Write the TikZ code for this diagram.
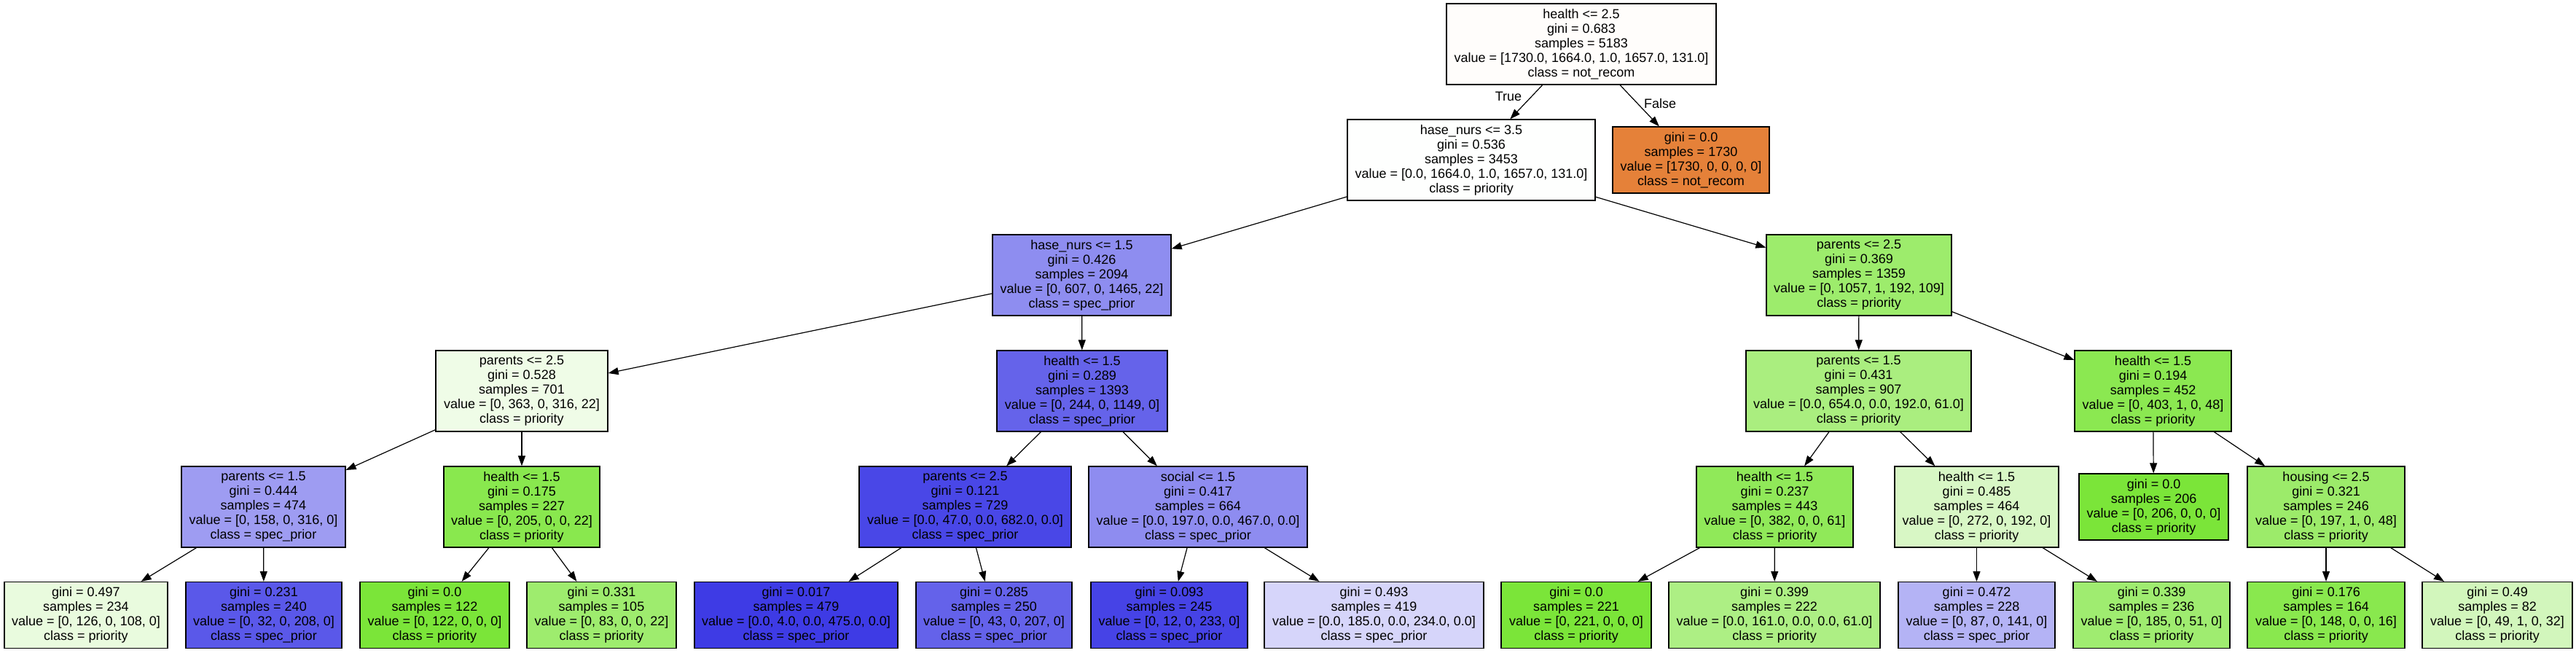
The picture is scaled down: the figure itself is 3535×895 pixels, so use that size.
\documentclass[tikz,border=0pt]{standalone}
\usepackage{fontspec}
\setmainfont{Liberation Sans}
\usetikzlibrary{arrows.meta}
\definecolor{cRoot}{HTML}{FFFDFB}
\definecolor{cNa}{HTML}{FEFFFE}
\definecolor{cLO}{HTML}{E58139}
\definecolor{cNb}{HTML}{8E8DF0}
\definecolor{cNc}{HTML}{9DEC6C}
\definecolor{cNd}{HTML}{EFFCE7}
\definecolor{cNe}{HTML}{6563EA}
\definecolor{cNf}{HTML}{AAEE7F}
\definecolor{cNg}{HTML}{8BE851}
\definecolor{cNh}{HTML}{9E9CF2}
\definecolor{cNi}{HTML}{89E84E}
\definecolor{cNj}{HTML}{4947E7}
\definecolor{cNk}{HTML}{8E8CF0}
\definecolor{cNl}{HTML}{90E959}
\definecolor{cNm}{HTML}{D8F7C5}
\definecolor{cGreen}{HTML}{7BE539}
\definecolor{cNn}{HTML}{9CEB6A}
\definecolor{cLa}{HTML}{E9FBDE}
\definecolor{cLb}{HTML}{5A58E9}
\definecolor{cLd}{HTML}{9EEC6E}
\definecolor{cLe}{HTML}{3E3BE5}
\definecolor{cLf}{HTML}{6462EA}
\definecolor{cLg}{HTML}{4643E6}
\definecolor{cLh}{HTML}{D6D5FA}
\definecolor{cLj}{HTML}{ADEF84}
\definecolor{cLk}{HTML}{B4B3F5}
\definecolor{cLl}{HTML}{9FEC70}
\definecolor{cLm}{HTML}{89E84E}
\definecolor{cLn}{HTML}{D2F6BC}
\tikzset{
  treebox/.style={draw=black, line width=1.3pt, rectangle, inner sep=0pt, align=center,
    font=\fontsize{18}{20}\selectfont, text=black, minimum height=111pt},
  leafbox/.style={treebox, minimum height=91pt},
  edge/.style={line width=1.2pt, -{Triangle[length=14pt,width=10pt]}},
  lbl/.style={font=\fontsize{18}{20}\selectfont, inner sep=0pt}
}
\begin{document}
\begin{tikzpicture}[x=1pt,y=-1pt]
\useasboundingbox (0,0) rectangle (3535,895);
% row 0
\node[treebox, fill=cRoot, minimum width=370pt] (root) at (2170,60.5) {health <= 2.5\\gini = 0.683\\samples = 5183\\value = [1730.0, 1664.0, 1.0, 1657.0, 131.0]\\class = not\_recom};
% row 1
\node[treebox, fill=cNa, minimum width=340pt] (na) at (2019,219.5) {hase\_nurs <= 3.5\\gini = 0.536\\samples = 3453\\value = [0.0, 1664.0, 1.0, 1657.0, 131.0]\\class = priority};
\node[leafbox, fill=cLO, minimum width=215pt] (lo) at (2320.5,219.5) {gini = 0.0\\samples = 1730\\value = [1730, 0, 0, 0, 0]\\class = not\_recom};
% row 2
\node[treebox, fill=cNb, minimum width=245pt] (nb) at (1484.5,377.5) {hase\_nurs <= 1.5\\gini = 0.426\\samples = 2094\\value = [0, 607, 0, 1465, 22]\\class = spec\_prior};
\node[treebox, fill=cNc, minimum width=254pt] (nc) at (2551,377.5) {parents <= 2.5\\gini = 0.369\\samples = 1359\\value = [0, 1057, 1, 192, 109]\\class = priority};
% row 3
\node[treebox, fill=cNd, minimum width=236pt] (nd) at (716,536.5) {parents <= 2.5\\gini = 0.528\\samples = 701\\value = [0, 363, 0, 316, 22]\\class = priority};
\node[treebox, fill=cNe, minimum width=234pt] (ne) at (1485,536.5) {health <= 1.5\\gini = 0.289\\samples = 1393\\value = [0, 244, 0, 1149, 0]\\class = spec\_prior};
\node[treebox, fill=cNf, minimum width=309pt] (nf) at (2550.5,536.5) {parents <= 1.5\\gini = 0.431\\samples = 907\\value = [0.0, 654.0, 0.0, 192.0, 61.0]\\class = priority};
\node[treebox, fill=cNg, minimum width=215pt] (ng) at (2954.5,536.5) {health <= 1.5\\gini = 0.194\\samples = 452\\value = [0, 403, 1, 0, 48]\\class = priority};
% row 4
\node[treebox, fill=cNh, minimum width=225pt] (nh) at (361.5,695.5) {parents <= 1.5\\gini = 0.444\\samples = 474\\value = [0, 158, 0, 316, 0]\\class = spec\_prior};
\node[treebox, fill=cNi, minimum width=214pt] (ni) at (716,695.5) {health <= 1.5\\gini = 0.175\\samples = 227\\value = [0, 205, 0, 0, 22]\\class = priority};
\node[treebox, fill=cNj, minimum width=291pt] (nj) at (1324.5,695.5) {parents <= 2.5\\gini = 0.121\\samples = 729\\value = [0.0, 47.0, 0.0, 682.0, 0.0]\\class = spec\_prior};
\node[treebox, fill=cNk, minimum width=300pt] (nk) at (1644,695.5) {social <= 1.5\\gini = 0.417\\samples = 664\\value = [0.0, 197.0, 0.0, 467.0, 0.0]\\class = spec\_prior};
\node[treebox, fill=cNl, minimum width=215pt] (nl) at (2435.5,695.5) {health <= 1.5\\gini = 0.237\\samples = 443\\value = [0, 382, 0, 0, 61]\\class = priority};
\node[treebox, fill=cNm, minimum width=225pt] (nm) at (2712.5,695.5) {health <= 1.5\\gini = 0.485\\samples = 464\\value = [0, 272, 0, 192, 0]\\class = priority};
\node[leafbox, fill=cGreen, minimum width=205pt] (lq) at (2955.5,695.5) {gini = 0.0\\samples = 206\\value = [0, 206, 0, 0, 0]\\class = priority};
\node[treebox, fill=cNn, minimum width=216pt] (nn) at (3192,695.5) {housing <= 2.5\\gini = 0.321\\samples = 246\\value = [0, 197, 1, 0, 48]\\class = priority};
% row 5
\node[leafbox, fill=cLa, minimum width=224pt] (la) at (118,844) {gini = 0.497\\samples = 234\\value = [0, 126, 0, 108, 0]\\class = priority};
\node[leafbox, fill=cLb, minimum width=214pt] (lb) at (362,844) {gini = 0.231\\samples = 240\\value = [0, 32, 0, 208, 0]\\class = spec\_prior};
\node[leafbox, fill=cGreen, minimum width=205pt] (lc) at (596.5,844) {gini = 0.0\\samples = 122\\value = [0, 122, 0, 0, 0]\\class = priority};
\node[leafbox, fill=cLd, minimum width=205pt] (ld) at (825.5,844) {gini = 0.331\\samples = 105\\value = [0, 83, 0, 0, 22]\\class = priority};
\node[leafbox, fill=cLe, minimum width=279pt] (le) at (1092.5,844) {gini = 0.017\\samples = 479\\value = [0.0, 4.0, 0.0, 475.0, 0.0]\\class = spec\_prior};
\node[leafbox, fill=cLf, minimum width=214pt] (lf) at (1364,844) {gini = 0.285\\samples = 250\\value = [0, 43, 0, 207, 0]\\class = spec\_prior};
\node[leafbox, fill=cLg, minimum width=215pt] (lg) at (1604.5,844) {gini = 0.093\\samples = 245\\value = [0, 12, 0, 233, 0]\\class = spec\_prior};
\node[leafbox, fill=cLh, minimum width=301pt] (lh) at (1885.5,844) {gini = 0.493\\samples = 419\\value = [0.0, 185.0, 0.0, 234.0, 0.0]\\class = spec\_prior};
\node[leafbox, fill=cGreen, minimum width=206pt] (li) at (2163,844) {gini = 0.0\\samples = 221\\value = [0, 221, 0, 0, 0]\\class = priority};
\node[leafbox, fill=cLj, minimum width=290pt] (lj) at (2435,844) {gini = 0.399\\samples = 222\\value = [0.0, 161.0, 0.0, 0.0, 61.0]\\class = priority};
\node[leafbox, fill=cLk, minimum width=215pt] (lk) at (2712.5,844) {gini = 0.472\\samples = 228\\value = [0, 87, 0, 141, 0]\\class = spec\_prior};
\node[leafbox, fill=cLl, minimum width=215pt] (ll) at (2952.5,844) {gini = 0.339\\samples = 236\\value = [0, 185, 0, 51, 0]\\class = priority};
\node[leafbox, fill=cLm, minimum width=216pt] (lm) at (3192,844) {gini = 0.176\\samples = 164\\value = [0, 148, 0, 0, 16]\\class = priority};
\node[leafbox, fill=cLn, minimum width=206pt] (ln) at (3427,844) {gini = 0.49\\samples = 82\\value = [0, 49, 1, 0, 32]\\class = priority};
% edges
\draw[edge] (root) -- (na);
\draw[edge] (root) -- (lo);
\node[lbl] (tlabel) at (2070,132) {True};
\node[lbl] (flabel) at (2278,142) {False};
\draw[edge] (na) -- (nb);
\draw[edge] (na) -- (nc);
\draw[edge] (nb) -- (nd);
\draw[edge] (nb) -- (ne);
\draw[edge] (nc) -- (nf);
\draw[edge] (nc) -- (ng);
\draw[edge] (nd) -- (nh);
\draw[edge] (nd) -- (ni);
\draw[edge] (ne) -- (nj);
\draw[edge] (ne) -- (nk);
\draw[edge] (nf) -- (nl);
\draw[edge] (nf) -- (nm);
\draw[edge] (ng) -- (lq);
\draw[edge] (ng) -- (nn);
\draw[edge] (nh) -- (la);
\draw[edge] (nh) -- (lb);
\draw[edge] (ni) -- (lc);
\draw[edge] (ni) -- (ld);
\draw[edge] (nj) -- (le);
\draw[edge] (nj) -- (lf);
\draw[edge] (nk) -- (lg);
\draw[edge] (nk) -- (lh);
\draw[edge] (nl) -- (li);
\draw[edge] (nl) -- (lj);
\draw[edge] (nm) -- (lk);
\draw[edge] (nm) -- (ll);
\draw[edge] (nn) -- (lm);
\draw[edge] (nn) -- (ln);
\end{tikzpicture}
\end{document}
